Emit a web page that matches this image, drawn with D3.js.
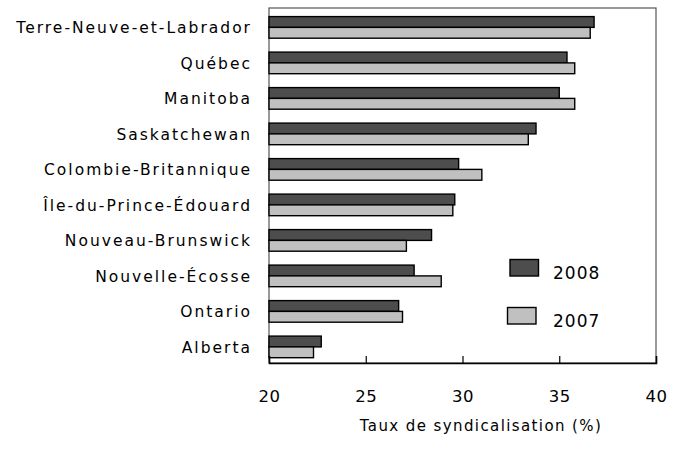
<!DOCTYPE html>
<meta charset="utf-8">
<title>Taux de syndicalisation</title>
<style>
body { margin: 0; background: #fff; }
text { font-family: "DejaVu Sans", sans-serif; fill: #000; }
</style>
<svg id="chart"></svg>
<script src="https://cdn.jsdelivr.net/npm/d3@7"></script>
<script>
// provinces, top to bottom
var provinces = ["Terre-Neuve-et-Labrador", "Québec", "Manitoba", "Saskatchewan",
  "Colombie-Britannique", "Île-du-Prince-Édouard", "Nouveau-Brunswick",
  "Nouvelle-Écosse", "Ontario", "Alberta"];
var rate2008 = [36.8, 35.4, 35.0, 33.8, 29.8, 29.6, 28.4, 27.5, 26.7, 22.7];
var rate2007 = [36.6, 35.8, 35.8, 33.4, 31.0, 29.5, 27.1, 28.9, 26.9, 22.3];
var years = ["2008", "2007"];
var xTicks = [20, 25, 30, 35, 40];

var width = 681, height = 453;
var margin = {top: 8, right: 25, bottom: 90, left: 269};

var svg = d3.select('#chart')
  .attr('width', width)
  .attr('height', height)

var x = d3.scaleLinear().domain([20, 40]).range([margin.left, width - margin.right])
var y = d3.scaleBand().domain(provinces).range([margin.top, height - margin.bottom])
var barH = 10.8
var colors = {"2008": "#4d4d4d", "2007": "#c0c0c0"}

// frame
svg.append('rect')
  .attr('x', x(20)).attr('y', margin.top)
  .attr('width', x(40) - x(20)).attr('height', height - margin.bottom - margin.top)
  .attr('fill', 'none').attr('stroke', '#555').attr('stroke-width', 1.2)

var rows = provinces.map(function(p, i) {
  return {name: p, values: [rate2008[i], rate2007[i]]}
})

var g = svg.append('g')
rows.forEach(function(r) {
  r.values.forEach(function(v, j) {
    g.append('rect')
      .attr('x', x(20))
      .attr('y', y(r.name) + 8.6 + j * barH)
      .attr('width', x(v) - x(20))
      .attr('height', barH)
      .attr('fill', colors[years[j]])
      .attr('stroke', '#000')
      .attr('stroke-width', 1.4)
  })
})

// category labels
svg.selectAll('.cat')
  .data(provinces)
  .enter().append('text')
  .attr('class', 'cat')
  .attr('x', 252)
  .attr('y', function(d) { return y(d) + y.bandwidth() / 2 + 2 })
  .attr('dy', '0.35em')
  .attr('text-anchor', 'end')
  .attr('font-size', 15.5)
  .attr('letter-spacing', 2)
  .text(function(d) { return d })

// x axis
var xAxis = d3.axisBottom(x).tickValues(xTicks).tickSize(-7).tickPadding(27)
var ax = svg.append('g')
  .attr('transform', 'translate(0,' + (height - margin.bottom) + ')')
  .call(xAxis)
ax.select('.domain').attr('stroke', '#000').attr('stroke-width', 1.5)
ax.selectAll('.tick line').attr('stroke', '#000').attr('stroke-width', 1.2)
ax.selectAll('.tick text').attr('font-size', 16.5).attr('fill', '#000')
  .attr('letter-spacing', 0.5)
  .style('font-family', '"DejaVu Sans", sans-serif')

svg.append('text')
  .attr('x', 481)
  .attr('y', 431)
  .attr('text-anchor', 'middle')
  .attr('font-size', 15)
  .attr('letter-spacing', 1.4)
  .text('Taux de syndicalisation (%)')

// legend
var legend = svg.append('g')
var legPos = [{sx: 510, sy: 259.5, ty: 273}, {sx: 507.5, sy: 307.5, ty: 321}]
years.forEach(function(yr, i) {
  legend.append('rect')
    .attr('x', legPos[i].sx).attr('y', legPos[i].sy)
    .attr('width', 28.5).attr('height', 16.5)
    .attr('fill', colors[yr]).attr('stroke', '#000').attr('stroke-width', 1.4)
  legend.append('text')
    .attr('x', 553).attr('y', legPos[i].ty)
    .attr('dy', '0.35em')
    .attr('font-size', 17)
    .attr('letter-spacing', 1)
    .text(yr)
})
</script>
